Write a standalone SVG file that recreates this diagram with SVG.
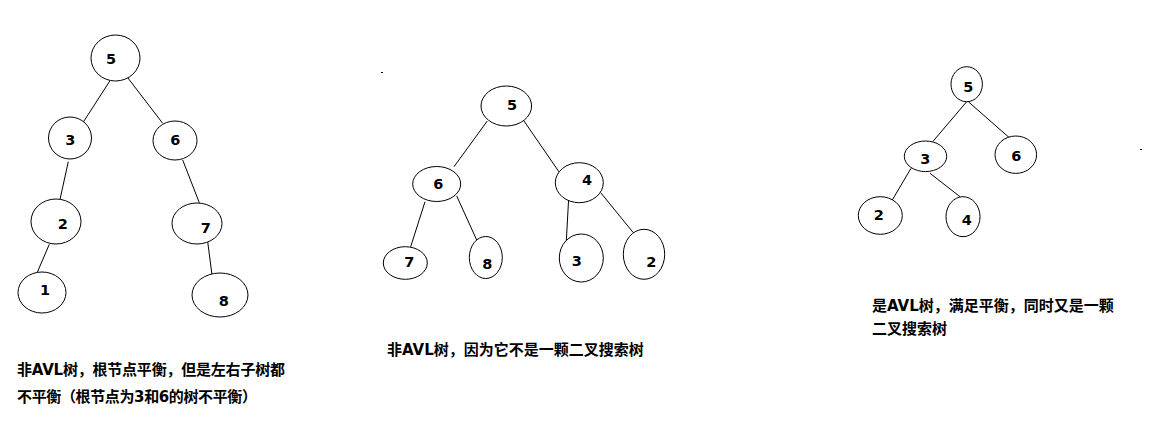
<svg xmlns="http://www.w3.org/2000/svg" width="1174" height="429" viewBox="0 0 1174 429">
<style>
.n ellipse{fill:#fff;stroke:#000;stroke-width:1}
.n text{font-family:"DejaVu Sans","Liberation Sans",sans-serif;font-weight:bold;font-size:14.5px;text-anchor:middle;fill:#000}
#edges line{stroke:#000;stroke-width:1}
.lbl{font-family:"DejaVu Sans","Noto Sans CJK SC",sans-serif;font-weight:bold;font-size:15px;fill:#000}
</style>
<rect width="1174" height="429" fill="#fff"/>
<g id="edges">
<line x1="110" y1="80.7" x2="82.7" y2="123"/>
<line x1="127.7" y1="77.7" x2="162.7" y2="123.3"/>
<line x1="68.3" y1="161.7" x2="60" y2="199.3"/>
<line x1="182.7" y1="160" x2="199.3" y2="202.7"/>
<line x1="49.3" y1="244.3" x2="37.3" y2="272.3"/>
<line x1="207.7" y1="241.7" x2="212" y2="275"/>
<line x1="487.3" y1="121" x2="454" y2="166.7"/>
<line x1="524" y1="121" x2="560" y2="173.3"/>
<line x1="425" y1="201.7" x2="410.7" y2="246.7"/>
<line x1="456.7" y1="196" x2="476.7" y2="240"/>
<line x1="568.7" y1="197.7" x2="566" y2="246.7"/>
<line x1="600.7" y1="192.7" x2="633.3" y2="232.7"/>
<line x1="966.7" y1="101.7" x2="932.7" y2="141.7"/>
<line x1="968.3" y1="101.7" x2="1010" y2="138.3"/>
<line x1="911" y1="168.3" x2="890.7" y2="202.7"/>
<line x1="930" y1="173.3" x2="960" y2="196.7"/>
</g>
<g id="t1-5" class="n"><ellipse cx="115.5" cy="58" rx="24.5" ry="23"/><text x="111" y="63.7">5</text></g>
<g id="t1-3" class="n"><ellipse cx="70" cy="138" rx="21.5" ry="21"/><text x="70.3" y="145.2">3</text></g>
<g id="t1-6" class="n"><ellipse cx="175" cy="140.5" rx="22" ry="19.5"/><text x="175.3" y="145.2">6</text></g>
<g id="t1-2" class="n"><ellipse cx="56" cy="221.5" rx="25" ry="22.5"/><text x="62.7" y="228.9">2</text></g>
<g id="t1-7" class="n"><ellipse cx="197" cy="223.5" rx="25" ry="20.5"/><text x="205.8" y="232.7">7</text></g>
<g id="t1-1" class="n"><ellipse cx="42" cy="292.5" rx="24" ry="20.5"/><text x="45" y="295.2">1</text></g>
<g id="t1-8" class="n"><ellipse cx="220" cy="295" rx="28" ry="22"/><text x="223.7" y="305.7">8</text></g>
<g id="t2-5" class="n"><ellipse cx="506.3" cy="106" rx="25.3" ry="20"/><text x="512" y="109.9">5</text></g>
<g id="t2-6" class="n"><ellipse cx="436.7" cy="184" rx="24" ry="17.5"/><text x="438.3" y="188.5">6</text></g>
<g id="t2-4" class="n"><ellipse cx="579.3" cy="182.7" rx="24" ry="20"/><text x="587" y="184.9">4</text></g>
<g id="t2-7" class="n"><ellipse cx="405.3" cy="263" rx="22" ry="16.3"/><text x="409.2" y="267.2">7</text></g>
<g id="t2-8" class="n"><ellipse cx="485.8" cy="257.5" rx="16.5" ry="21"/><text x="487.2" y="268.5">8</text></g>
<g id="t2-3" class="n"><ellipse cx="581.3" cy="258" rx="22" ry="24"/><text x="576.7" y="265.5">3</text></g>
<g id="t2-2" class="n"><ellipse cx="644" cy="254.3" rx="20.7" ry="25"/><text x="651.2" y="267.2">2</text></g>
<g id="t3-5" class="n"><ellipse cx="966.7" cy="84.2" rx="15.7" ry="17.5"/><text x="968.3" y="91.5">5</text></g>
<g id="t3-3" class="n"><ellipse cx="925.5" cy="156.3" rx="21.2" ry="15.3"/><text x="925.3" y="163.9">3</text></g>
<g id="t3-6" class="n"><ellipse cx="1015.8" cy="154.7" rx="20.8" ry="18.7"/><text x="1016.3" y="160.9">6</text></g>
<g id="t3-2" class="n"><ellipse cx="880.3" cy="215.5" rx="22" ry="18.8"/><text x="878.7" y="220.2">2</text></g>
<g id="t3-4" class="n"><ellipse cx="963" cy="216.7" rx="17" ry="20"/><text x="966.7" y="224.7">4</text></g>
<g id="labels">
<text class="lbl" x="17" y="375" textLength="268" lengthAdjust="spacing">非AVL树，根节点平衡，但是左右子树都</text>
<text class="lbl" x="17" y="402" textLength="240" lengthAdjust="spacing">不平衡（根节点为3和6的树不平衡）</text>
<text class="lbl" x="387" y="355">非AVL树，因为它不是一颗二叉搜索树</text>
<text class="lbl" x="872" y="311">是AVL树，满足平衡，同时又是一颗</text>
<text class="lbl" x="872" y="334">二叉搜索树</text>
</g>
<rect x="381" y="72" width="2" height="1" fill="#000"/>
<rect x="1140" y="149" width="2" height="1" fill="#000"/>
</svg>
